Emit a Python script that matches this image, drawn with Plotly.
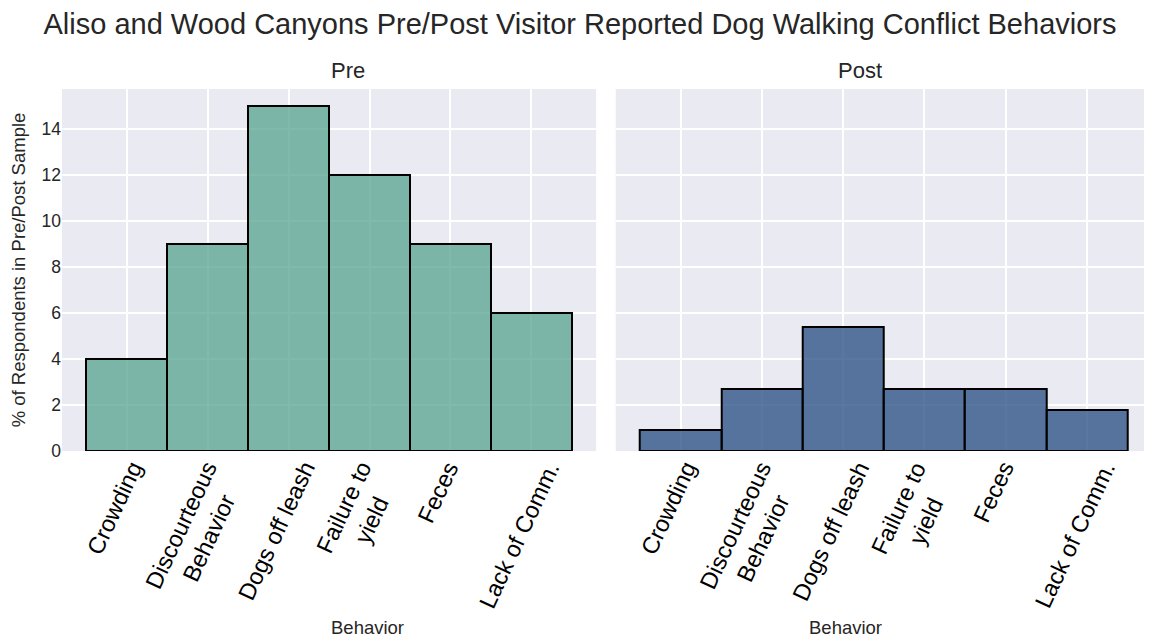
import plotly.graph_objects as go
from plotly.subplots import make_subplots

categories = ["Crowding", "Discourteous Behavior", "Dogs off leash",
              "Failure to yield", "Feces", "Lack of Comm."]
tick_labels = ["Crowding", "Discourteous<br>Behavior", "Dogs off leash",
               "Failure to<br>yield", "Feces", "Lack of Comm."]
pre_values = [4, 9, 15, 12, 9, 6]
post_values = [0.9, 2.7, 5.4, 2.7, 2.7, 1.8]

title = "Aliso and Wood Canyons Pre/Post Visitor Reported Dog Walking Conflict Behaviors"
panel_titles = ["Pre", "Post"]
y_title = "% of Respondents in Pre/Post Sample"
x_title = "Behavior"

pre_color = "rgba(86,163,141,0.75)"
post_color = "rgba(35,75,127,0.75)"
bg = "#EAEAF2"
txt = "#262626"
font_family = "Liberation Sans, Arial, sans-serif"

# page body has an 8px margin: figure is sized/offset to compensate
fig = make_subplots(rows=1, cols=2, shared_yaxes=True, horizontal_spacing=0.018)

for col, vals, color in [(1, pre_values, pre_color), (2, post_values, post_color)]:
    fig.add_trace(go.Bar(x=categories, y=vals, width=1,
                         marker=dict(color=color, line=dict(color="black", width=2)),
                         showlegend=False), row=1, col=col)

fig.update_xaxes(type="category", range=[-0.8, 5.8], showticklabels=False,
                 showgrid=True, gridcolor="white", gridwidth=1.5,
                 zeroline=False, showline=False, ticks="")
fig.update_yaxes(range=[0, 15.75], dtick=2, showgrid=True, gridcolor="white",
                 gridwidth=1.5, zeroline=False, showline=False, ticks="",
                 tickfont=dict(size=17.5, color=txt))
fig.update_yaxes(showticklabels=False, row=1, col=2)
fig.update_yaxes(title=dict(text=y_title, font=dict(size=18.5, color=txt), standoff=12), row=1, col=1)

fig.update_layout(
    width=1144, height=630,
    margin=dict(l=54, r=0, t=81, b=187),
    paper_bgcolor="white", plot_bgcolor=bg,
    font=dict(family=font_family, color=txt),
    bargap=0,
    title=dict(text=title, x=0.5, xanchor="center", y=0.975, yanchor="middle",
               font=dict(size=29, color=txt)),
)
dom1, dom2 = [0, 0.49], [0.508, 1]
fig.update_layout(xaxis=dict(domain=dom1), xaxis2=dict(domain=dom2))

annotations = []
for i, xref in enumerate(["x", "x2"]):
    dom = dom1 if i == 0 else dom2
    annotations.append(dict(text=panel_titles[i], x=(dom[0] + dom[1]) / 2, xref="paper",
                            y=1, yref="paper", yanchor="bottom", yshift=4,
                            showarrow=False, font=dict(size=22, color=txt)))
    annotations.append(dict(text=x_title, x=(dom[0] + dom[1]) / 2, xref="paper",
                            y=0, yref="paper", yanchor="top", yshift=-164,
                            showarrow=False, font=dict(size=18.5, color=txt)))
    for cat, lab in zip(categories, tick_labels):
        annotations.append(dict(text=lab, x=cat, xref=xref, y=0, yref="y",
                                xanchor="center", yanchor="top", textangle=-65,
                                yshift=-4, xshift=-12, showarrow=False, align="center",
                                font=dict(size=23.5, color="black")))
fig.update_layout(annotations=annotations)

fig.write_html("out.html")
